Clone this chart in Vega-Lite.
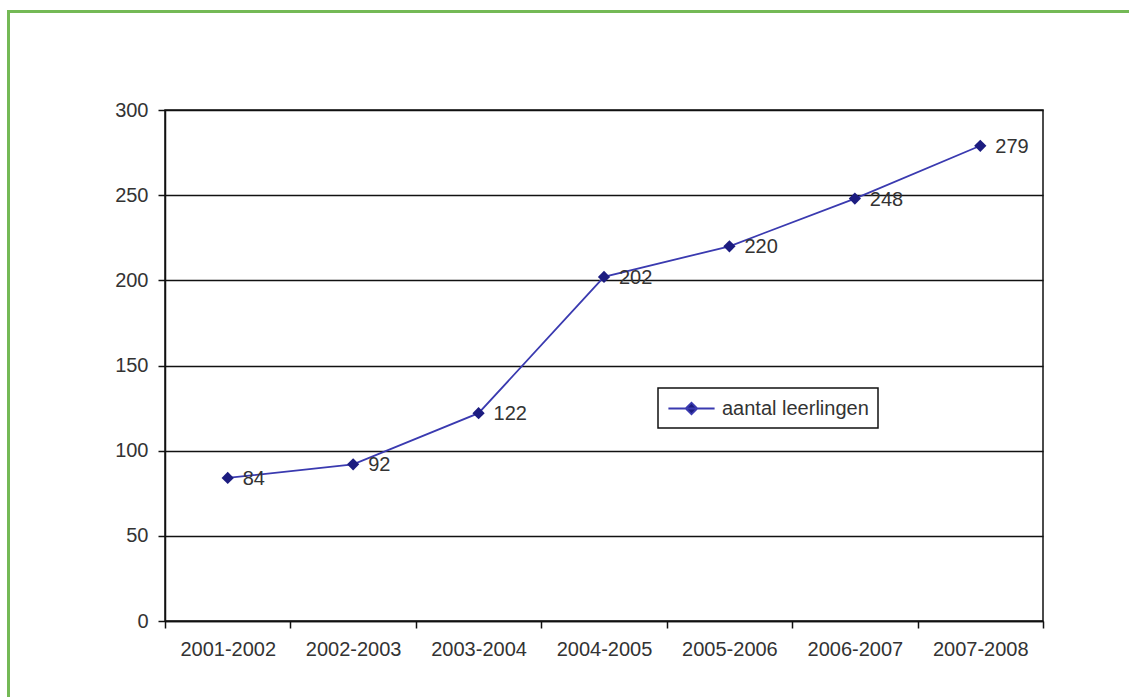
{
  "$schema": "https://vega.github.io/schema/vega-lite/v6.json",
  "autosize": {"type": "none"},
  "width": 878,
  "height": 511,
  "padding": {"left": 165, "top": 110, "right": 86, "bottom": 76},
  "background": "white",
  "config": {
    "font": "Liberation Sans",
    "view": {"stroke": "#111", "strokeWidth": 1.5},
    "legend": {"strokeWidth": 1.5},
    "axis": {
      "labelFont": "Liberation Sans",
      "labelFontSize": 20,
      "labelColor": "#333",
      "domainColor": "#111",
      "domainWidth": 1.5,
      "tickColor": "#111",
      "tickWidth": 1.5,
      "tickSize": 7,
      "title": null
    }
  },
  "layer": [
    {
      "data": {"values": [{}]},
      "mark": {"type": "rect", "fill": null, "stroke": "#74b956", "strokeWidth": 3},
      "encoding": {
        "x": {"value": -156.5},
        "x2": {"value": 990},
        "y": {"value": -98.5},
        "y2": {"value": 620}
      }
    },
    {
      "data": {
        "values": [
          {"jaar": "2001-2002", "aantal": 84},
          {"jaar": "2002-2003", "aantal": 92},
          {"jaar": "2003-2004", "aantal": 122},
          {"jaar": "2004-2005", "aantal": 202},
          {"jaar": "2005-2006", "aantal": 220},
          {"jaar": "2006-2007", "aantal": 248},
          {"jaar": "2007-2008", "aantal": 279}
        ]
      },
      "encoding": {
        "x": {
          "field": "jaar",
          "type": "nominal",
          "sort": null,
          "scale": {"type": "band", "paddingInner": 0, "paddingOuter": 0},
          "axis": {"labelAngle": 0, "tickBand": "extent", "labelPadding": 11, "grid": false}
        },
        "y": {
          "field": "aantal",
          "type": "quantitative",
          "scale": {"domain": [0, 300], "nice": false},
          "axis": {
            "values": [0, 50, 100, 150, 200, 250, 300],
            "grid": true,
            "gridColor": "#111",
            "gridWidth": 1.5,
            "gridOpacity": 1,
            "labelPadding": 10
          }
        }
      },
      "layer": [
        {
          "mark": {"type": "line", "strokeWidth": 1.8},
          "encoding": {
            "color": {
              "datum": "aantal leerlingen",
              "scale": {"range": ["#3a3ab0"]},
              "legend": {
                "title": null,
                "orient": "none",
                "legendX": 493,
                "legendY": 278,
                "padding": 9,
                "strokeColor": "#111",
                "fillColor": "white",
                "labelFontSize": 20,
                "labelColor": "#333",
                "labelOffset": 19,
                "symbolOffset": 13,
                "symbolType": "M-2.2,0L2.2,0M-0.55,0L0,-0.55L0.55,0L0,0.55Z",
                "symbolSize": 441,
                "symbolStrokeWidth": 1.8,
                "symbolStrokeColor": "#3a3ab0",
                "symbolFillColor": "#1c1c80"
              }
            }
          }
        },
        {
          "mark": {"type": "point", "shape": "diamond", "filled": true, "size": 150, "color": "#1c1c80", "opacity": 1}
        },
        {
          "mark": {"type": "text", "align": "left", "baseline": "middle", "dx": 15, "dy": 1, "fontSize": 20, "color": "#333"},
          "encoding": {"text": {"field": "aantal", "type": "quantitative"}}
        }
      ]
    }
  ]
}
